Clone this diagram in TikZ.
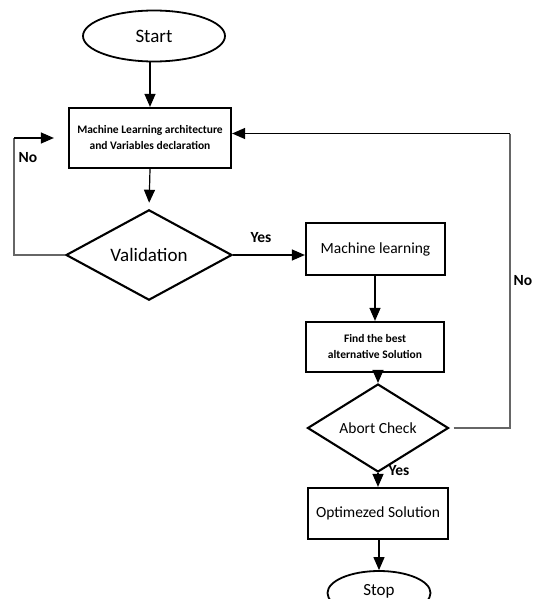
\documentclass[tikz,border=0pt]{standalone}
\usepackage{fontspec}
\setmainfont{Carlito}
\usetikzlibrary{shapes.geometric,arrows.meta}
\begin{document}
\begin{tikzpicture}[x=1pt,y=-1pt,
  every node/.style={inner sep=0pt,align=center},
  boxnode/.style={draw,line width=2.2pt,rectangle},
  ovalnode/.style={draw,line width=1.8pt,ellipse},
  decnode/.style={draw,line width=2.1pt,diamond},
  conn/.style={line width=1.2pt,-{Triangle[width=11pt,length=13pt]}},
  loopline/.style={line width=1.1pt,draw=black!60},
  lbl/.style={font=\fontsize{15.5}{17}\selectfont\bfseries},
  big/.style={font=\fontsize{19}{21}\selectfont},
  mid/.style={font=\fontsize{15.5}{18}\selectfont},
  small/.style={font=\fontsize{11.5}{16}\selectfont\bfseries}
]
\fill[white] (0,0) rectangle (534,599);
\clip (0,0) rectangle (534,599);
\useasboundingbox (0,0) rectangle (534,599);

\node[ovalnode,big,minimum width=142pt,minimum height=51pt] (start) at (154,36) {Start};
\node[boxnode,small,minimum width=162pt,minimum height=60pt] (arch) at (150,138)
  {Machine Learning architecture\\and Variables declaration};
\node[decnode,big,minimum width=166pt,minimum height=71pt] (val) at (149,255) {Validation};
\node[boxnode,mid,minimum width=139pt,minimum height=52pt] (ml) at (375.5,249) {Machine learning};
\node[boxnode,small,minimum width=138pt,minimum height=50pt] (find) at (375,347)
  {Find the best\\alternative Solution};
\node[decnode,mid,minimum width=141pt,minimum height=55pt] (abort) at (378,428) {Abort Check};
\node[boxnode,mid,minimum width=140pt,minimum height=51pt] (opt) at (378,513.5) {Optimezed Solution};
\node[ovalnode,font=\fontsize{17}{20}\selectfont,minimum width=103pt,minimum height=44pt] (stop) at (379,593) {\raisebox{6pt}{Stop}};

\coordinate (lc) at (14,138);
\coordinate (rc) at (510,133.5);

\draw[conn] (start.south -| arch.north) -- (arch.north);
\draw[conn,shorten >=6pt] (arch.south) -- (val.north);
\draw[conn] (val.east) -- (val.east -| ml.west);
\draw[conn] (ml.south -| find.north) -- (find.north);
\draw[conn] (find.south -| abort.north) -- (abort.north);
\draw[conn] (abort.south) -- (abort.south |- opt.north);
\draw[conn] (opt.south -| stop.north) -- (stop.north);

\draw[loopline] (val.west) -| (lc);
\draw[conn,shorten >=14pt] (lc) -- (arch.west);
\draw[loopline] ([xshift=4pt]abort.east) -| (rc);
\draw[conn] (rc) -- (rc -| arch.east);

\node[lbl] (nol) at (28,158) {No};
\node[lbl] (yesv) at (261,238) {Yes};
\node[lbl] (nor) at (523,281) {No};
\node[lbl] (yesa) at (399,471) {Yes};
\end{tikzpicture}
\end{document}
